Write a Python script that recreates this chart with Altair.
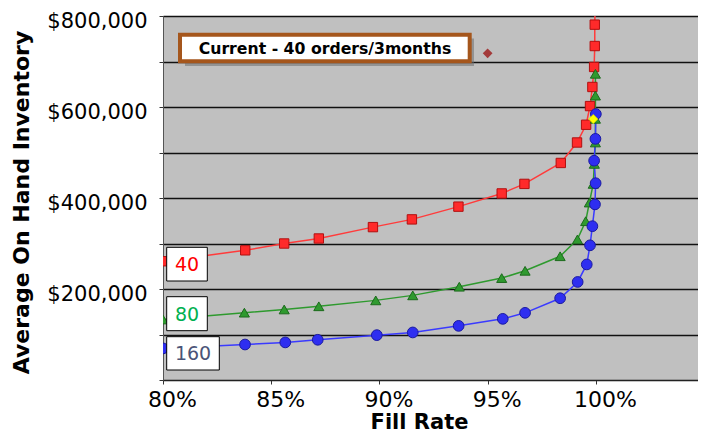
import altair as alt
import pandas as pd

# ---------------- data ----------------
series_names = ["40", "80", "160"]

fill_40 = [0.800, 0.838, 0.856, 0.872, 0.897, 0.915, 0.9365, 0.9565, 0.967,
           0.9838, 0.9913, 0.9955, 0.9973, 0.9984, 0.9992, 0.9995, 0.9995, 0.9997]
inv_40 = [261000, 285000, 300000, 311000, 336000, 353000, 381000, 410000, 431000,
          477000, 522000, 561000, 602000, 644000, 688000, 734000, 781000, 830000]

fill_80 = [0.800, 0.8376, 0.856, 0.872, 0.8983, 0.9154, 0.9369, 0.9565, 0.9673,
           0.9835, 0.9915, 0.9953, 0.997, 0.9988, 0.9993, 0.9998, 0.9998, 0.9998, 0.9998]
inv_80 = [133000, 148000, 155000, 162000, 175000, 186000, 205000, 224000, 240000,
          272000, 309000, 349000, 390000, 431000, 475000, 522000, 574000, 625000, 673000]

fill_160 = [0.800, 0.8379, 0.8565, 0.8715, 0.8988, 0.9154, 0.9366, 0.957, 0.9673,
            0.9835, 0.9916, 0.9958, 0.9973, 0.9984, 0.9996, 0.9999, 0.9992, 0.9998, 1.0]
inv_160 = [69500, 78000, 82600, 88400, 98600, 104500, 119000, 134400, 147600,
           179700, 215500, 254000, 296000, 338000, 386000, 432500, 482000, 530000, 584500]

current_fill = [0.95]
current_inv = [718000]
highlight_fill = [0.9988]
highlight_inv = [573500]

x_ticks = [0.80, 0.85, 0.90, 0.95, 1.00]
y_ticks = [0, 100000, 200000, 300000, 400000, 500000, 600000, 700000, 800000]

annotation_text = "Current - 40 orders/3months"

# ---------------- build tables ----------------
rows = []
for name, xs, ys in zip(series_names, [fill_40, fill_80, fill_160], [inv_40, inv_80, inv_160]):
    for i, (xv, yv) in enumerate(zip(xs, ys)):
        rows.append({"series": name, "idx": i, "fill": xv, "inv": yv})
df = pd.DataFrame(rows)
df_current = pd.DataFrame({"fill": current_fill, "inv": current_inv})
df_high = pd.DataFrame({"fill": highlight_fill, "inv": highlight_inv})
one = pd.DataFrame({"a": [0]})

FONT = "DejaVu Sans"

line_colors = ["#FF3B3B", "#2E9A2E", "#3A3AFF"]
fill_colors = ["#FF2A2A", "#2F9A2F", "#2E2EF0"]
stroke_colors = ["#B01010", "#1C6A1C", "#1A1AA0"]
shapes = ["square", "triangle-up", "circle"]
sizes = [88, 115, 95]

x_scale = alt.Scale(domain=[0.8, 1.0472], nice=False, zero=False)
y_scale = alt.Scale(domain=[0, 800000], nice=False, zero=True)

x_enc = alt.X(
    "fill:Q", scale=x_scale,
    axis=alt.Axis(
        values=x_ticks, format=".0%", title="Fill Rate", grid=False,
        labelFont=FONT, labelFontSize=22, labelColor="black", labelOffset=9,
        labelPadding=5, tickSize=4, tickColor="#333", domainColor="#222",
        labelFlush=False,
        titleFont=FONT, titleFontSize=21, titleFontWeight="bold", titleColor="black",
        titleX=256, titleY=48, titleBaseline="alphabetic", titleAlign="center",
    ),
)
y_enc = alt.Y(
    "inv:Q", scale=y_scale,
    axis=alt.Axis(
        values=y_ticks,
        labelExpr="(datum.value % 200000 == 0 && datum.value > 0) ? format(datum.value, '$,.0f') : ''",
        title="Average On Hand Inventory", grid=True, gridColor="#111111", gridWidth=1.3,
        labelFont=FONT, labelFontSize=21, labelColor="black", labelPadding=12, labelOffset=5,
        tickSize=4, tickColor="#333", domainColor="#555", labelFlush=False,
        titleFont=FONT, titleFontSize=22, titleFontWeight="bold", titleColor="black",
        titleX=-135, titleY=186, titleAngle=270, titleBaseline="alphabetic", titleAlign="center",
    ),
)

lines = alt.Chart(df).mark_line(strokeWidth=1.5, clip=True).encode(
    x=x_enc, y=y_enc,
    color=alt.Color("series:N", scale=alt.Scale(domain=series_names, range=line_colors), legend=None),
    order=alt.Order("idx:Q"),
)

points = alt.Chart(df).mark_point(filled=True, strokeWidth=1, opacity=1, clip=True).encode(
    x=x_enc, y=y_enc,
    fill=alt.Fill("series:N", scale=alt.Scale(domain=series_names, range=fill_colors), legend=None),
    stroke=alt.Stroke("series:N", scale=alt.Scale(domain=series_names, range=stroke_colors), legend=None),
    shape=alt.Shape("series:N", scale=alt.Scale(domain=series_names, range=shapes), legend=None),
    size=alt.Size("series:N", scale=alt.Scale(domain=series_names, range=sizes), legend=None),
)

current_pt = alt.Chart(df_current).mark_point(
    filled=True, shape="diamond", size=95, color="#A33A3A", opacity=1
).encode(x=x_enc, y=y_enc)

high_pt = alt.Chart(df_high).mark_point(
    filled=True, shape="diamond", size=85, color="#FFFF00", stroke="#D8D800", strokeWidth=0.8, opacity=1
).encode(x=x_enc, y=y_enc)

# ---------------- annotation boxes ----------------
def box(x0, x1, y0, y1, **kw):
    return alt.Chart(one).mark_rect(**kw).encode(
        x=alt.value(x0), x2=alt.value(x1), y=alt.value(y0), y2=alt.value(y1)
    )

def label(txt, xc, yc, color, size, weight="normal"):
    return alt.Chart(one).mark_text(
        text=txt, font=FONT, fontSize=size, fontWeight=weight, color=color,
        align="center", baseline="middle"
    ).encode(x=alt.value(xc), y=alt.value(yc))

layers = [lines, points, current_pt, high_pt]

# series labels
layers += [
    box(3.7, 44.3, 231.3, 265, fill="white", stroke="black", strokeWidth=1),
    label("40", 24, 249, "#FF0000", 19),
    box(3.7, 44.3, 280.7, 314.7, fill="white", stroke="black", strokeWidth=1),
    label("80", 24, 298.5, "#00B050", 19),
    box(3.7, 56.3, 320.7, 354, fill="white", stroke="black", strokeWidth=1),
    label("160", 30, 338, "#4A5478", 19),
]

# "Current" callout with shadow
layers += [
    box(22, 311, 22.5, 50, fill="#6e6e6e", opacity=0.55),
    box(17, 306.7, 18.7, 45.3, fill="white", stroke="#A5561C", strokeWidth=4),
    label(annotation_text, 162, 32.5, "black", 15.7, "bold"),
]

chart = alt.layer(*layers).properties(
    width=535, height=364,
    autosize=alt.AutoSizeParams(type="none"),
    padding={"left": 155, "top": 8, "right": 0, "bottom": 54},
    background="white",
).configure_view(fill="#C0C0C0", stroke="#808080", strokeWidth=1)

chart.save("out.html", embed_options={"renderer": "svg", "actions": False})
